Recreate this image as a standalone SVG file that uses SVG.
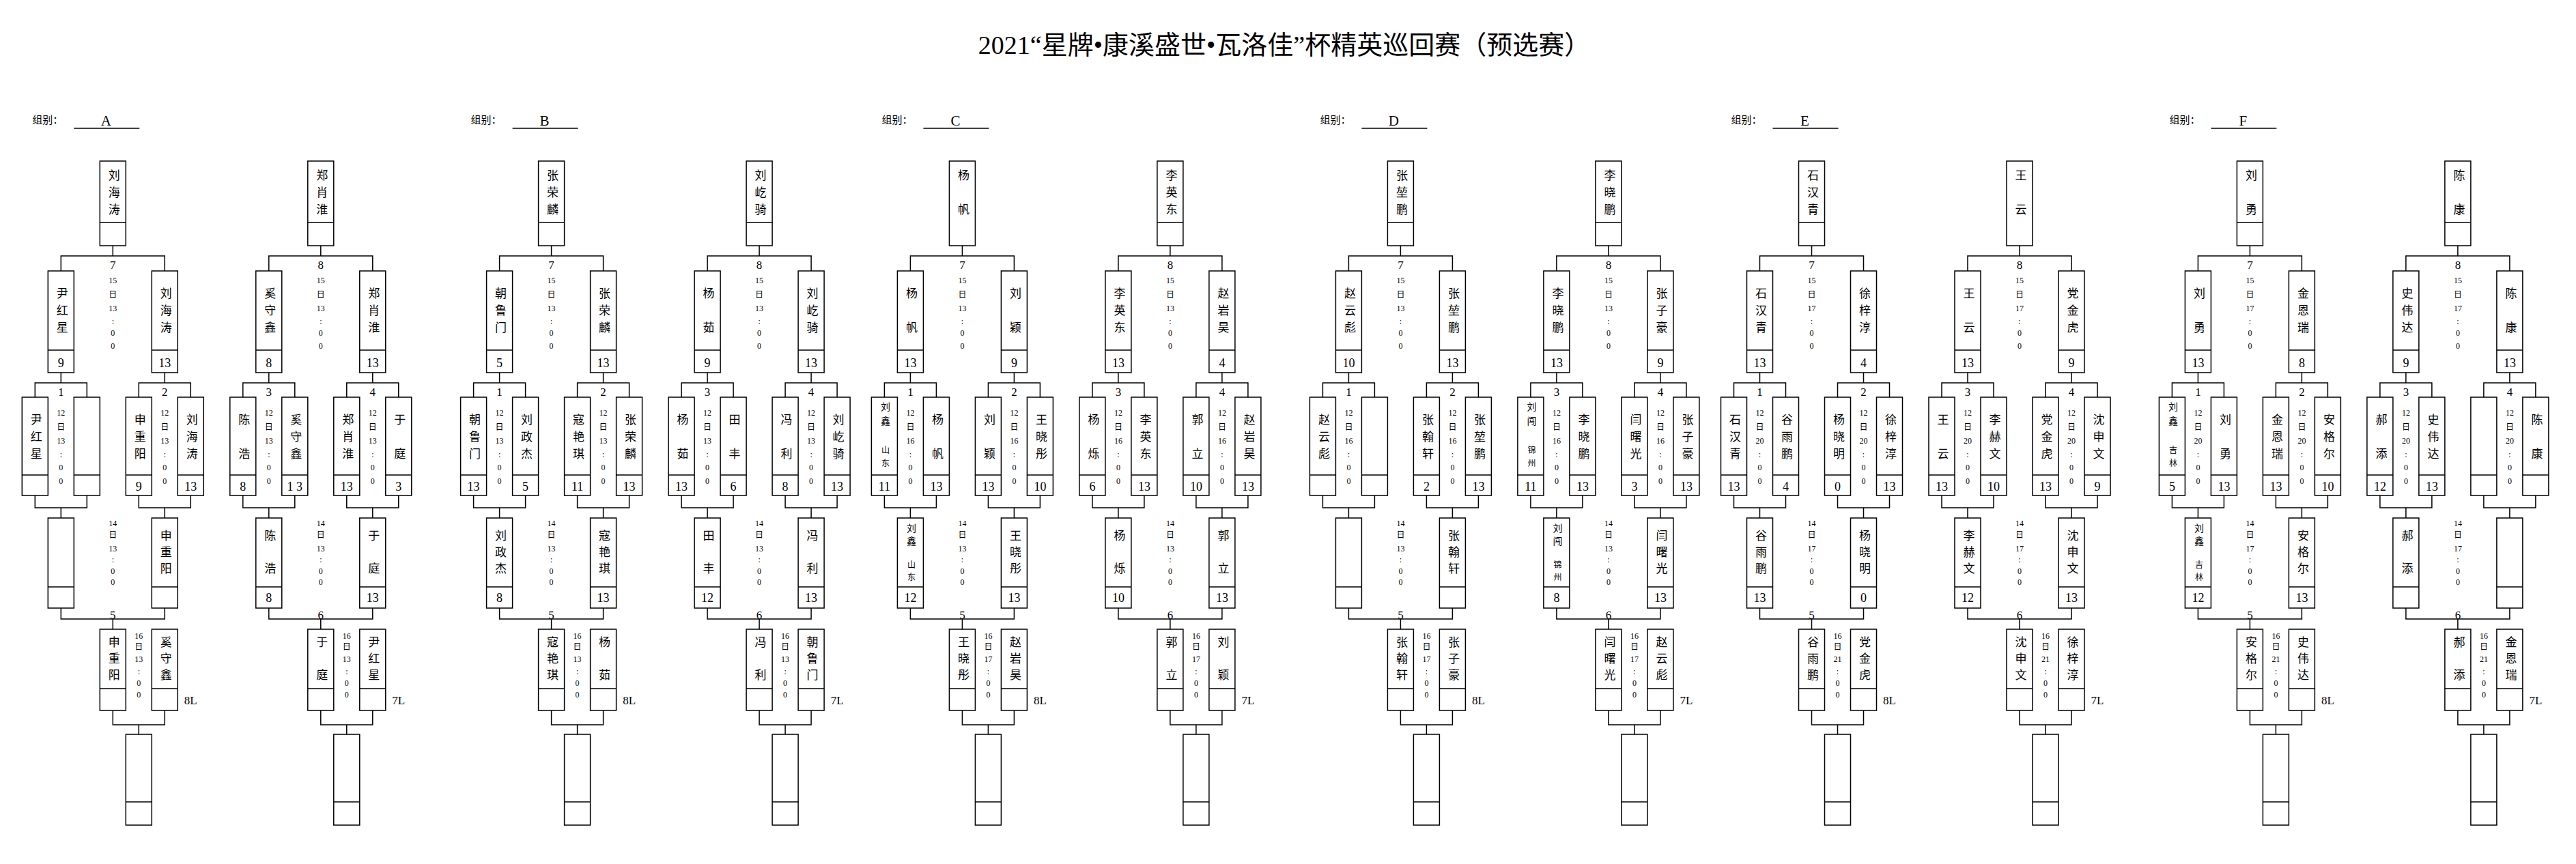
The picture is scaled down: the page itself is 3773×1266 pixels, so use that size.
<svg xmlns="http://www.w3.org/2000/svg" xmlns:xlink="http://www.w3.org/1999/xlink" width="3773" height="1266" viewBox="0 0 3773 1266">
<style>
.b{fill:none;stroke:#000;stroke-width:1.5}
text{font-family:"Liberation Serif","Noto Sans CJK SC",serif;fill:#000}
.n{font-size:17px;writing-mode:vertical-rl;letter-spacing:8px;text-anchor:start}
.n2{font-size:17px;writing-mode:vertical-rl;letter-spacing:7px;text-anchor:start}
.nr{font-size:14px;writing-mode:vertical-rl;letter-spacing:7px;text-anchor:start}
.nr2{font-size:14px;writing-mode:vertical-rl;letter-spacing:4.5px;text-anchor:start}
.rg{font-size:12px;writing-mode:vertical-rl;letter-spacing:7px;text-anchor:start}
.rg2{font-size:12px;writing-mode:vertical-rl;letter-spacing:6px;text-anchor:start}
.s{font-size:18px;text-anchor:middle;dominant-baseline:central}
.m{font-size:17px;text-anchor:middle;dominant-baseline:central}
.t{font-size:12px;text-anchor:middle;dominant-baseline:central}
.g{font-size:15px;dominant-baseline:central}
.gl{font-size:21px;text-anchor:middle;dominant-baseline:central}
.ti{font-size:38px;text-anchor:middle}
</style>
<defs>
<g id="sk">
<rect class="b" x="-19" y="236" width="38" height="124"/>
<rect class="b" x="-95" y="397" width="38" height="149"/><rect class="b" x="57" y="397" width="38" height="149"/>
<rect class="b" x="-133" y="582" width="38" height="144"/><rect class="b" x="-57" y="582" width="38" height="144"/><rect class="b" x="19" y="582" width="38" height="144"/><rect class="b" x="95" y="582" width="38" height="144"/>
<rect class="b" x="-95" y="759" width="38" height="132"/><rect class="b" x="57" y="759" width="38" height="132"/>
<rect class="b" x="-19" y="922" width="38" height="119"/><rect class="b" x="57" y="922" width="38" height="119"/>
<rect class="b" x="19" y="1076" width="38" height="133"/>
<path class="b" d="M-95 513h38M57 513h38M-133 696h38M-57 696h38M19 696h38M95 696h38M-95 860h38M57 860h38M-19 1009h38M57 1009h38M19 1175h38"/>
</g>
<path id="td" class="b" d="M-19 326h38"/>
<path id="cn" class="b" d="M0 360V375M-76 397V375H76V397M-76 546V561M-114 582V561H-38V582M76 546V561M38 582V561H114V582M-114 726V744H-38V726M-76 744V759M38 726V744H114V726M76 744V759M-76 891V907H76V891M0 907V922M0 1041V1062H76V1041M38 1062V1076"/>
<g id="T15_13"><text class="t" y="0">15</text><text class="t" y="21">日</text><text class="t" y="41">13</text><text class="t" y="60">:</text><text class="t" y="77">0</text><text class="t" y="96">0</text></g>
<g id="T15_17"><text class="t" y="0">15</text><text class="t" y="21">日</text><text class="t" y="41">17</text><text class="t" y="60">:</text><text class="t" y="77">0</text><text class="t" y="96">0</text></g>
<g id="T12_13"><text class="t" y="0">12</text><text class="t" y="21">日</text><text class="t" y="41">13</text><text class="t" y="61">:</text><text class="t" y="80">0</text><text class="t" y="100">0</text></g>
<g id="T12_16"><text class="t" y="0">12</text><text class="t" y="21">日</text><text class="t" y="41">16</text><text class="t" y="61">:</text><text class="t" y="80">0</text><text class="t" y="100">0</text></g>
<g id="T12_20"><text class="t" y="0">12</text><text class="t" y="21">日</text><text class="t" y="41">20</text><text class="t" y="61">:</text><text class="t" y="80">0</text><text class="t" y="100">0</text></g>
<g id="T14_13"><text class="t" y="0">14</text><text class="t" y="17">日</text><text class="t" y="37">13</text><text class="t" y="53">:</text><text class="t" y="70">0</text><text class="t" y="86">0</text></g>
<g id="T14_17"><text class="t" y="0">14</text><text class="t" y="17">日</text><text class="t" y="37">17</text><text class="t" y="53">:</text><text class="t" y="70">0</text><text class="t" y="86">0</text></g>
<g id="T16_13"><text class="t" y="0">16</text><text class="t" y="16">日</text><text class="t" y="34">13</text><text class="t" y="52">:</text><text class="t" y="69">0</text><text class="t" y="86">0</text></g>
<g id="T16_17"><text class="t" y="0">16</text><text class="t" y="16">日</text><text class="t" y="34">17</text><text class="t" y="52">:</text><text class="t" y="69">0</text><text class="t" y="86">0</text></g>
<g id="T16_21"><text class="t" y="0">16</text><text class="t" y="16">日</text><text class="t" y="34">21</text><text class="t" y="52">:</text><text class="t" y="69">0</text><text class="t" y="86">0</text></g>
</defs>
<rect width="3773" height="1266" fill="#fff"/>
<text class="ti" x="1881" y="79">2021“星牌•康溪盛世•瓦洛佳”杯精英巡回赛（预选赛）</text>

<g id="connectors">
<use xlink:href="#cn" transform="translate(165.3,0)"/><use xlink:href="#cn" transform="translate(469.8,0)"/>
<use xlink:href="#cn" transform="translate(807.6,0)"/><use xlink:href="#cn" transform="translate(1112.1,0)"/>
<use xlink:href="#cn" transform="translate(1409.4,0)"/><use xlink:href="#cn" transform="translate(1713.9,0)"/>
<use xlink:href="#cn" transform="translate(2051.4,0)"/><use xlink:href="#cn" transform="translate(2355.9,0)"/>
<use xlink:href="#cn" transform="translate(2653.5,0)"/><use xlink:href="#cn" transform="translate(2958,0)"/>
<use xlink:href="#cn" transform="translate(3295.4,0)"/><use xlink:href="#cn" transform="translate(3599.9,0)"/>
</g>

<g id="label-A" transform="translate(165.3,0)"><text class="g" x="-118" y="176">组别：</text><path class="b" d="M-57 188H39"/><text class="gl" x="-10" y="177">A</text></g>
<g id="label-B" transform="translate(807.6,0)"><text class="g" x="-118" y="176">组别：</text><path class="b" d="M-57 188H39"/><text class="gl" x="-10" y="177">B</text></g>
<g id="label-C" transform="translate(1409.4,0)"><text class="g" x="-118" y="176">组别：</text><path class="b" d="M-57 188H39"/><text class="gl" x="-10" y="177">C</text></g>
<g id="label-D" transform="translate(2051.4,0)"><text class="g" x="-118" y="176">组别：</text><path class="b" d="M-57 188H39"/><text class="gl" x="-10" y="177">D</text></g>
<g id="label-E" transform="translate(2653.5,0)"><text class="g" x="-118" y="176">组别：</text><path class="b" d="M-57 188H39"/><text class="gl" x="-10" y="177">E</text></g>
<g id="label-F" transform="translate(3295.4,0)"><text class="g" x="-118" y="176">组别：</text><path class="b" d="M-57 188H39"/><text class="gl" x="-10" y="177">F</text></g>

<g id="A1" transform="translate(165.3,0)">
<use xlink:href="#sk"/><use xlink:href="#td"/>
<text class="n" x="0" y="248.5">刘海涛</text>
<text class="m" x="0" y="388">7</text><use xlink:href="#T15_13" y="411"/>
<text class="n" x="-76" y="421.5">尹红星</text><text class="s" x="-76" y="532">9</text>
<text class="n" x="76" y="421.5">刘海涛</text><text class="s" x="76" y="532">13</text>
<text class="m" x="-76" y="574">1</text><text class="m" x="76" y="574">2</text>
<use xlink:href="#T12_13" x="-76" y="605"/><use xlink:href="#T12_13" x="76" y="605"/>
<text class="n" x="-114" y="606.5">尹红星</text>
<text class="n" x="38" y="606.5">申重阳</text><text class="s" x="38" y="713">9</text>
<text class="n" x="114" y="606.5">刘海涛</text><text class="s" x="114" y="713">13</text>
<use xlink:href="#T14_13" y="767"/>
<text class="n2" x="76" y="776.5">申重阳</text>
<text class="m" x="0" y="901">5</text>
<use xlink:href="#T16_13" x="38" y="932"/>
<text class="n2" x="0" y="932.5">申重阳</text><text class="n2" x="76" y="932.5">奚守鑫</text>
<text class="m" x="114" y="1026">8L</text>
</g>
<g id="A2" transform="translate(469.8,0)">
<use xlink:href="#sk"/><use xlink:href="#td"/>
<text class="n" x="0" y="248.5">郑肖淮</text>
<text class="m" x="0" y="388">8</text><use xlink:href="#T15_13" y="411"/>
<text class="n" x="-76" y="421.5">奚守鑫</text><text class="s" x="-76" y="532">8</text>
<text class="n" x="76" y="421.5">郑肖淮</text><text class="s" x="76" y="532">13</text>
<text class="m" x="-76" y="574">3</text><text class="m" x="76" y="574">4</text>
<use xlink:href="#T12_13" x="-76" y="605"/><use xlink:href="#T12_13" x="76" y="605"/>
<text class="n" x="-114" y="606.5">陈　浩</text><text class="s" x="-114" y="713">8</text>
<text class="n" x="-38" y="606.5">奚守鑫</text><text class="s" x="-38" y="713">1 3</text>
<text class="n" x="38" y="606.5">郑肖淮</text><text class="s" x="38" y="713">13</text>
<text class="n" x="114" y="606.5">于　庭</text><text class="s" x="114" y="713">3</text>
<use xlink:href="#T14_13" y="767"/>
<text class="n2" x="-76" y="776.5">陈　浩</text><text class="s" x="-76" y="876">8</text>
<text class="n2" x="76" y="776.5">于　庭</text><text class="s" x="76" y="876">13</text>
<text class="m" x="0" y="901">6</text>
<use xlink:href="#T16_13" x="38" y="932"/>
<text class="n2" x="0" y="932.5">于　庭</text><text class="n2" x="76" y="932.5">尹红星</text>
<text class="m" x="114" y="1026">7L</text>
</g>

<g id="B1" transform="translate(807.6,0)">
<use xlink:href="#sk"/><use xlink:href="#td"/>
<text class="n" x="0" y="248.5">张荣麟</text>
<text class="m" x="0" y="388">7</text><use xlink:href="#T15_13" y="411"/>
<text class="n" x="-76" y="421.5">朝鲁门</text><text class="s" x="-76" y="532">5</text>
<text class="n" x="76" y="421.5">张荣麟</text><text class="s" x="76" y="532">13</text>
<text class="m" x="-76" y="574">1</text><text class="m" x="76" y="574">2</text>
<use xlink:href="#T12_13" x="-76" y="605"/><use xlink:href="#T12_13" x="76" y="605"/>
<text class="n" x="-114" y="606.5">朝鲁门</text><text class="s" x="-114" y="713">13</text>
<text class="n" x="-38" y="606.5">刘政杰</text><text class="s" x="-38" y="713">5</text>
<text class="n" x="38" y="606.5">寇艳琪</text><text class="s" x="38" y="713">11</text>
<text class="n" x="114" y="606.5">张荣麟</text><text class="s" x="114" y="713">13</text>
<use xlink:href="#T14_13" y="767"/>
<text class="n2" x="-76" y="776.5">刘政杰</text><text class="s" x="-76" y="876">8</text>
<text class="n2" x="76" y="776.5">寇艳琪</text><text class="s" x="76" y="876">13</text>
<text class="m" x="0" y="901">5</text>
<use xlink:href="#T16_13" x="38" y="932"/>
<text class="n2" x="0" y="932.5">寇艳琪</text><text class="n2" x="76" y="932.5">杨　茹</text>
<text class="m" x="114" y="1026">8L</text>
</g>
<g id="B2" transform="translate(1112.1,0)">
<use xlink:href="#sk"/><use xlink:href="#td"/>
<text class="n" x="0" y="248.5">刘屹骑</text>
<text class="m" x="0" y="388">8</text><use xlink:href="#T15_13" y="411"/>
<text class="n" x="-76" y="421.5">杨　茹</text><text class="s" x="-76" y="532">9</text>
<text class="n" x="76" y="421.5">刘屹骑</text><text class="s" x="76" y="532">13</text>
<text class="m" x="-76" y="574">3</text><text class="m" x="76" y="574">4</text>
<use xlink:href="#T12_13" x="-76" y="605"/><use xlink:href="#T12_13" x="76" y="605"/>
<text class="n" x="-114" y="606.5">杨　茹</text><text class="s" x="-114" y="713">13</text>
<text class="n" x="-38" y="606.5">田　丰</text><text class="s" x="-38" y="713">6</text>
<text class="n" x="38" y="606.5">冯　利</text><text class="s" x="38" y="713">8</text>
<text class="n" x="114" y="606.5">刘屹骑</text><text class="s" x="114" y="713">13</text>
<use xlink:href="#T14_13" y="767"/>
<text class="n2" x="-76" y="776.5">田　丰</text><text class="s" x="-76" y="876">12</text>
<text class="n2" x="76" y="776.5">冯　利</text><text class="s" x="76" y="876">13</text>
<text class="m" x="0" y="901">6</text>
<use xlink:href="#T16_13" x="38" y="932"/>
<text class="n2" x="0" y="932.5">冯　利</text><text class="n2" x="76" y="932.5">朝鲁门</text>
<text class="m" x="114" y="1026">7L</text>
</g>

<g id="C1" transform="translate(1409.4,0)">
<use xlink:href="#sk"/>
<text class="n" x="0" y="248.5">杨　帆</text>
<text class="m" x="0" y="388">7</text><use xlink:href="#T15_13" y="411"/>
<text class="n" x="-76" y="421.5">杨　帆</text><text class="s" x="-76" y="532">13</text>
<text class="n" x="76" y="421.5">刘　颖</text><text class="s" x="76" y="532">9</text>
<text class="m" x="-76" y="574">1</text><text class="m" x="76" y="574">2</text>
<use xlink:href="#T12_16" x="-76" y="605"/><use xlink:href="#T12_16" x="76" y="605"/>
<text class="nr" x="-114" y="589">刘鑫</text><text class="rg" x="-114" y="653">山东</text><text class="s" x="-114" y="713">11</text>
<text class="n" x="-38" y="606.5">杨　帆</text><text class="s" x="-38" y="713">13</text>
<text class="n" x="38" y="606.5">刘　颖</text><text class="s" x="38" y="713">13</text>
<text class="n" x="114" y="606.5">王晓彤</text><text class="s" x="114" y="713">10</text>
<use xlink:href="#T14_13" y="767"/>
<text class="nr2" x="-76" y="767">刘鑫</text><text class="rg2" x="-76" y="821">山东</text><text class="s" x="-76" y="876">12</text>
<text class="n2" x="76" y="776.5">王晓彤</text><text class="s" x="76" y="876">13</text>
<text class="m" x="0" y="901">5</text>
<use xlink:href="#T16_17" x="38" y="932"/>
<text class="n2" x="0" y="932.5">王晓彤</text><text class="n2" x="76" y="932.5">赵岩昊</text>
<text class="m" x="114" y="1026">8L</text>
</g>
<g id="C2" transform="translate(1713.9,0)">
<use xlink:href="#sk"/><use xlink:href="#td"/>
<text class="n" x="0" y="248.5">李英东</text>
<text class="m" x="0" y="388">8</text><use xlink:href="#T15_13" y="411"/>
<text class="n" x="-76" y="421.5">李英东</text><text class="s" x="-76" y="532">13</text>
<text class="n" x="76" y="421.5">赵岩昊</text><text class="s" x="76" y="532">4</text>
<text class="m" x="-76" y="574">3</text><text class="m" x="76" y="574">4</text>
<use xlink:href="#T12_16" x="-76" y="605"/><use xlink:href="#T12_16" x="76" y="605"/>
<text class="n" x="-114" y="606.5">杨　烁</text><text class="s" x="-114" y="713">6</text>
<text class="n" x="-38" y="606.5">李英东</text><text class="s" x="-38" y="713">13</text>
<text class="n" x="38" y="606.5">郭　立</text><text class="s" x="38" y="713">10</text>
<text class="n" x="114" y="606.5">赵岩昊</text><text class="s" x="114" y="713">13</text>
<use xlink:href="#T14_13" y="767"/>
<text class="n2" x="-76" y="776.5">杨　烁</text><text class="s" x="-76" y="876">10</text>
<text class="n2" x="76" y="776.5">郭　立</text><text class="s" x="76" y="876">13</text>
<text class="m" x="0" y="901">6</text>
<use xlink:href="#T16_17" x="38" y="932"/>
<text class="n2" x="0" y="932.5">郭　立</text><text class="n2" x="76" y="932.5">刘　颖</text>
<text class="m" x="114" y="1026">7L</text>
</g>

<g id="D1" transform="translate(2051.4,0)">
<use xlink:href="#sk"/><use xlink:href="#td"/>
<text class="n" x="0" y="248.5">张堃鹏</text>
<text class="m" x="0" y="388">7</text><use xlink:href="#T15_13" y="411"/>
<text class="n" x="-76" y="421.5">赵云彪</text><text class="s" x="-76" y="532">10</text>
<text class="n" x="76" y="421.5">张堃鹏</text><text class="s" x="76" y="532">13</text>
<text class="m" x="-76" y="574">1</text><text class="m" x="76" y="574">2</text>
<use xlink:href="#T12_16" x="-76" y="605"/><use xlink:href="#T12_16" x="76" y="605"/>
<text class="n" x="-114" y="606.5">赵云彪</text>
<text class="n" x="38" y="606.5">张翰轩</text><text class="s" x="38" y="713">2</text>
<text class="n" x="114" y="606.5">张堃鹏</text><text class="s" x="114" y="713">13</text>
<use xlink:href="#T14_13" y="767"/>
<text class="n2" x="76" y="776.5">张翰轩</text>
<text class="m" x="0" y="901">5</text>
<use xlink:href="#T16_17" x="38" y="932"/>
<text class="n2" x="0" y="932.5">张翰轩</text><text class="n2" x="76" y="932.5">张子豪</text>
<text class="m" x="114" y="1026">8L</text>
</g>
<g id="D2" transform="translate(2355.9,0)">
<use xlink:href="#sk"/><use xlink:href="#td"/>
<text class="n" x="0" y="248.5">李晓鹏</text>
<text class="m" x="0" y="388">8</text><use xlink:href="#T15_13" y="411"/>
<text class="n" x="-76" y="421.5">李晓鹏</text><text class="s" x="-76" y="532">13</text>
<text class="n" x="76" y="421.5">张子豪</text><text class="s" x="76" y="532">9</text>
<text class="m" x="-76" y="574">3</text><text class="m" x="76" y="574">4</text>
<use xlink:href="#T12_16" x="-76" y="605"/><use xlink:href="#T12_16" x="76" y="605"/>
<text class="nr" x="-114" y="589">刘闯</text><text class="rg" x="-114" y="653">锦州</text><text class="s" x="-114" y="713">11</text>
<text class="n" x="-38" y="606.5">李晓鹏</text><text class="s" x="-38" y="713">13</text>
<text class="n" x="38" y="606.5">闫曙光</text><text class="s" x="38" y="713">3</text>
<text class="n" x="114" y="606.5">张子豪</text><text class="s" x="114" y="713">13</text>
<use xlink:href="#T14_13" y="767"/>
<text class="nr2" x="-76" y="767">刘闯</text><text class="rg2" x="-76" y="821">锦州</text><text class="s" x="-76" y="876">8</text>
<text class="n2" x="76" y="776.5">闫曙光</text><text class="s" x="76" y="876">13</text>
<text class="m" x="0" y="901">6</text>
<use xlink:href="#T16_17" x="38" y="932"/>
<text class="n2" x="0" y="932.5">闫曙光</text><text class="n2" x="76" y="932.5">赵云彪</text>
<text class="m" x="114" y="1026">7L</text>
</g>

<g id="E1" transform="translate(2653.5,0)">
<use xlink:href="#sk"/><use xlink:href="#td"/>
<text class="n" x="0" y="248.5">石汉青</text>
<text class="m" x="0" y="388">7</text><use xlink:href="#T15_17" y="411"/>
<text class="n" x="-76" y="421.5">石汉青</text><text class="s" x="-76" y="532">13</text>
<text class="n" x="76" y="421.5">徐梓淳</text><text class="s" x="76" y="532">4</text>
<text class="m" x="-76" y="574">1</text><text class="m" x="76" y="574">2</text>
<use xlink:href="#T12_20" x="-76" y="605"/><use xlink:href="#T12_20" x="76" y="605"/>
<text class="n" x="-114" y="606.5">石汉青</text><text class="s" x="-114" y="713">13</text>
<text class="n" x="-38" y="606.5">谷雨鹏</text><text class="s" x="-38" y="713">4</text>
<text class="n" x="38" y="606.5">杨晓明</text><text class="s" x="38" y="713">0</text>
<text class="n" x="114" y="606.5">徐梓淳</text><text class="s" x="114" y="713">13</text>
<use xlink:href="#T14_17" y="767"/>
<text class="n2" x="-76" y="776.5">谷雨鹏</text><text class="s" x="-76" y="876">13</text>
<text class="n2" x="76" y="776.5">杨晓明</text><text class="s" x="76" y="876">0</text>
<text class="m" x="0" y="901">5</text>
<use xlink:href="#T16_21" x="38" y="932"/>
<text class="n2" x="0" y="932.5">谷雨鹏</text><text class="n2" x="76" y="932.5">党金虎</text>
<text class="m" x="114" y="1026">8L</text>
</g>
<g id="E2" transform="translate(2958,0)">
<use xlink:href="#sk"/>
<text class="n" x="0" y="248.5">王　云</text>
<text class="m" x="0" y="388">8</text><use xlink:href="#T15_17" y="411"/>
<text class="n" x="-76" y="421.5">王　云</text><text class="s" x="-76" y="532">13</text>
<text class="n" x="76" y="421.5">党金虎</text><text class="s" x="76" y="532">9</text>
<text class="m" x="-76" y="574">3</text><text class="m" x="76" y="574">4</text>
<use xlink:href="#T12_20" x="-76" y="605"/><use xlink:href="#T12_20" x="76" y="605"/>
<text class="n" x="-114" y="606.5">王　云</text><text class="s" x="-114" y="713">13</text>
<text class="n" x="-38" y="606.5">李赫文</text><text class="s" x="-38" y="713">10</text>
<text class="n" x="38" y="606.5">党金虎</text><text class="s" x="38" y="713">13</text>
<text class="n" x="114" y="606.5">沈申文</text><text class="s" x="114" y="713">9</text>
<use xlink:href="#T14_17" y="767"/>
<text class="n2" x="-76" y="776.5">李赫文</text><text class="s" x="-76" y="876">12</text>
<text class="n2" x="76" y="776.5">沈申文</text><text class="s" x="76" y="876">13</text>
<text class="m" x="0" y="901">6</text>
<use xlink:href="#T16_21" x="38" y="932"/>
<text class="n2" x="0" y="932.5">沈申文</text><text class="n2" x="76" y="932.5">徐梓淳</text>
<text class="m" x="114" y="1026">7L</text>
</g>

<g id="F1" transform="translate(3295.4,0)">
<use xlink:href="#sk"/><use xlink:href="#td"/>
<text class="n" x="0" y="248.5">刘　勇</text>
<text class="m" x="0" y="388">7</text><use xlink:href="#T15_17" y="411"/>
<text class="n" x="-76" y="421.5">刘　勇</text><text class="s" x="-76" y="532">13</text>
<text class="n" x="76" y="421.5">金恩瑞</text><text class="s" x="76" y="532">8</text>
<text class="m" x="-76" y="574">1</text><text class="m" x="76" y="574">2</text>
<use xlink:href="#T12_20" x="-76" y="605"/><use xlink:href="#T12_20" x="76" y="605"/>
<text class="nr" x="-114" y="589">刘鑫</text><text class="rg" x="-114" y="653">吉林</text><text class="s" x="-114" y="713">5</text>
<text class="n" x="-38" y="606.5">刘　勇</text><text class="s" x="-38" y="713">13</text>
<text class="n" x="38" y="606.5">金恩瑞</text><text class="s" x="38" y="713">13</text>
<text class="n" x="114" y="606.5">安格尔</text><text class="s" x="114" y="713">10</text>
<use xlink:href="#T14_17" y="767"/>
<text class="nr2" x="-76" y="767">刘鑫</text><text class="rg2" x="-76" y="821">吉林</text><text class="s" x="-76" y="876">12</text>
<text class="n2" x="76" y="776.5">安格尔</text><text class="s" x="76" y="876">13</text>
<text class="m" x="0" y="901">5</text>
<use xlink:href="#T16_21" x="38" y="932"/>
<text class="n2" x="0" y="932.5">安格尔</text><text class="n2" x="76" y="932.5">史伟达</text>
<text class="m" x="114" y="1026">8L</text>
</g>
<g id="F2" transform="translate(3599.9,0)">
<use xlink:href="#sk"/><use xlink:href="#td"/>
<text class="n" x="0" y="248.5">陈　康</text>
<text class="m" x="0" y="388">8</text><use xlink:href="#T15_17" y="411"/>
<text class="n" x="-76" y="421.5">史伟达</text><text class="s" x="-76" y="532">9</text>
<text class="n" x="76" y="421.5">陈　康</text><text class="s" x="76" y="532">13</text>
<text class="m" x="-76" y="574">3</text><text class="m" x="76" y="574">4</text>
<use xlink:href="#T12_20" x="-76" y="605"/><use xlink:href="#T12_20" x="76" y="605"/>
<text class="n" x="-114" y="606.5">郝　添</text><text class="s" x="-114" y="713">12</text>
<text class="n" x="-38" y="606.5">史伟达</text><text class="s" x="-38" y="713">13</text>
<text class="n" x="114" y="606.5">陈　康</text>
<use xlink:href="#T14_17" y="767"/>
<text class="n2" x="-76" y="776.5">郝　添</text>
<text class="m" x="0" y="901">6</text>
<use xlink:href="#T16_21" x="38" y="932"/>
<text class="n2" x="0" y="932.5">郝　添</text><text class="n2" x="76" y="932.5">金恩瑞</text>
<text class="m" x="114" y="1026">7L</text>
</g>
</svg>
